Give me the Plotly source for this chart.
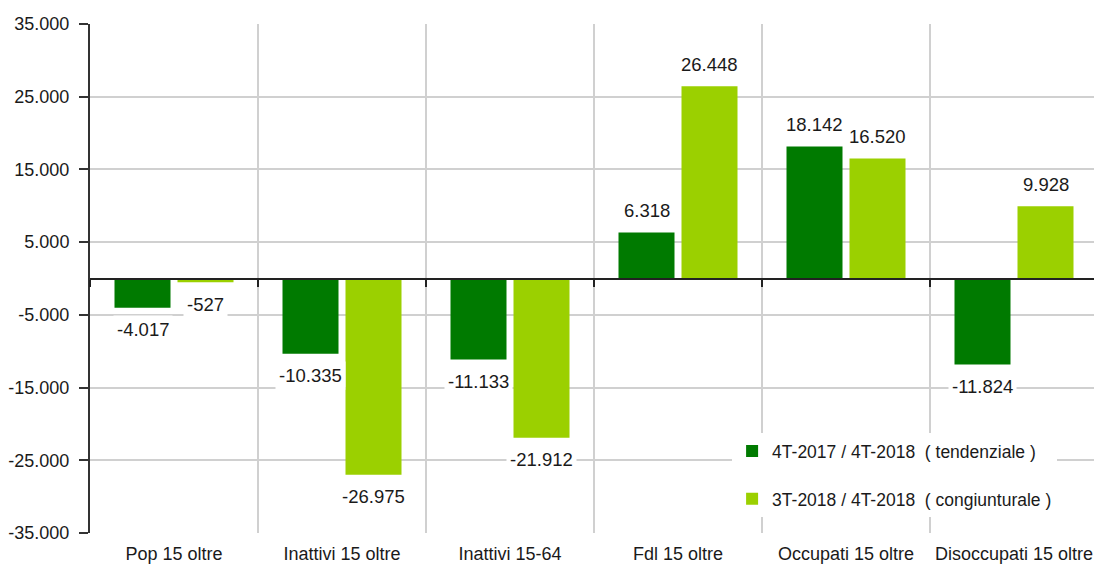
import plotly.graph_objects as go

categories = ["Pop 15 oltre", "Inattivi 15 oltre", "Inattivi 15-64",
              "Fdl 15 oltre", "Occupati 15 oltre", "Disoccupati 15 oltre"]
series_names = ["4T-2017 / 4T-2018  ( tendenziale )",
                "3T-2018 / 4T-2018  ( congiunturale )"]
tendenziale = [-4017, -10335, -11133, 6318, 18142, -11824]
congiunturale = [-527, -26975, -21912, 26448, 16520, 9928]
tick_values = [-35000, -25000, -15000, -5000, 5000, 15000, 25000, 35000]
tick_labels = ["-35.000", "-25.000", "-15.000", "-5.000", "5.000", "15.000", "25.000", "35.000"]

colors = ["#007A00", "#9BD000"]
font_family = "Liberation Sans, Arial, sans-serif"
text_color = "#1a1a1a"

def fmt(v):
    s = f"{abs(v):,}".replace(",", ".")
    return ("-" if v < 0 else "") + s

fig = go.Figure()
for i, (name, vals) in enumerate([(series_names[0], tendenziale), (series_names[1], congiunturale)]):
    fig.add_trace(go.Bar(
        x=categories, y=vals, name=name, marker_color=colors[i],
        marker_line_width=0, legendgroup=f"g{i}", hoverinfo="x+y",
    ))

# invisible helper trace for the axis line at zero
fig.add_trace(go.Scatter(x=categories, y=[0] * len(categories), xaxis="x2",
                         mode="markers", marker=dict(opacity=0), showlegend=False,
                         hoverinfo="skip"))

slot_offset = 31.5
annotations = []
for i, vals in enumerate([tendenziale, congiunturale]):
    sign_x = -1 if i == 0 else 1
    for c, v in zip(categories, vals):
        annotations.append(dict(
            x=c, y=v, xref="x", yref="y", text=fmt(v), showarrow=False,
            xshift=sign_x * slot_offset, yshift=22 if v >= 0 else -22,
            bgcolor="white", borderpad=3,
            font=dict(family=font_family, size=18.5, color=text_color),
        ))

fig.update_layout(
    width=1094, height=557,
    margin=dict(l=82, r=4, t=16, b=32, autoexpand=False),
    paper_bgcolor="white", plot_bgcolor="white",
    barmode="group", bargap=0.25, bargroupgap=0.111,
    font=dict(family=font_family, size=18, color=text_color),
    showlegend=True,
    legend=dict(x=0.637, y=0.196, xanchor="left", yanchor="top",
                bgcolor="white", borderwidth=0, itemwidth=30,
                traceorder="grouped", tracegroupgap=22,
                font=dict(family=font_family, size=17.5, color=text_color)),
    annotations=annotations,
    xaxis=dict(type="category", categoryorder="array", categoryarray=categories,
               range=[-0.5, 5.5], tickson="boundaries", showgrid=True,
               gridcolor="#D0D0D0", gridwidth=1.5, ticks="", showline=False,
               zeroline=False, tickfont=dict(size=18), ticklabelstandoff=8,
               tickangle=0, automargin=False),
    xaxis2=dict(type="category", categoryorder="array", categoryarray=categories,
                range=[-0.5, 5.5], overlaying="x", anchor="free", position=0.5,
                showline=True, linecolor="#222", linewidth=2, ticks="outside",
                tickson="boundaries", ticklen=7, tickcolor="#222", tickwidth=2,
                showticklabels=False, showgrid=False, zeroline=False, automargin=False),
    yaxis=dict(range=[-35000, 35000], tickvals=tick_values, ticktext=tick_labels,
               showgrid=True, gridcolor="#D0D0D0", gridwidth=1.5, zeroline=False,
               showline=True, linecolor="#333", linewidth=2, ticks="outside",
               ticklen=9, tickcolor="#333", tickwidth=2, tickfont=dict(size=18),
               ticklabelstandoff=6, automargin=False),
)

fig.write_html("out.html")
